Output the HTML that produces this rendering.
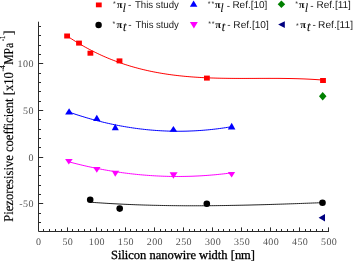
<!DOCTYPE html>
<html><head><meta charset="utf-8"><style>
html,body{margin:0;padding:0;background:#fff;}
body{width:353px;height:262px;overflow:hidden;}
svg{display:block;will-change:transform;text-rendering:geometricPrecision;}
</style></head><body>
<svg width="353" height="262" viewBox="0 0 353 262">
<rect width="353" height="262" fill="#fff"/>
<path d="M38.5 21.7 V231.5 H329" stroke="#2a2a2a" stroke-width="1" fill="none"/>
<path d="M38.5 231 V227.4 M43.5 231 V229 M49.5 231 V229 M55.5 231 V229 M61.5 231 V229 M67.5 231 V227.4 M72.5 231 V229 M78.5 231 V229 M84.5 231 V229 M90.5 231 V229 M96.5 231 V227.4 M101.5 231 V229 M107.5 231 V229 M113.5 231 V229 M119.5 231 V229 M125.5 231 V227.4 M130.5 231 V229 M136.5 231 V229 M142.5 231 V229 M148.5 231 V229 M154.5 231 V227.4 M160.5 231 V229 M165.5 231 V229 M171.5 231 V229 M177.5 231 V229 M183.5 231 V227.4 M189.5 231 V229 M194.5 231 V229 M200.5 231 V229 M206.5 231 V229 M212.5 231 V227.4 M218.5 231 V229 M223.5 231 V229 M229.5 231 V229 M235.5 231 V229 M241.5 231 V227.4 M247.5 231 V229 M252.5 231 V229 M258.5 231 V229 M264.5 231 V229 M270.5 231 V227.4 M276.5 231 V229 M281.5 231 V229 M287.5 231 V229 M293.5 231 V229 M299.5 231 V227.4 M305.5 231 V229 M310.5 231 V229 M316.5 231 V229 M322.5 231 V229 M328.5 231 V227.4 M39 222.5 H41.0 M39 213.5 H41.0 M39 203.5 H43.2 M39 194.5 H41.0 M39 185.5 H41.0 M39 175.5 H41.0 M39 166.5 H41.0 M39 157.5 H43.2 M39 147.5 H41.0 M39 138.5 H41.0 M39 129.5 H41.0 M39 119.5 H41.0 M39 110.5 H43.2 M39 101.5 H41.0 M39 91.5 H41.0 M39 82.5 H41.0 M39 73.5 H41.0 M39 63.5 H43.2 M39 54.5 H41.0 M39 45.5 H41.0 M39 35.5 H41.0 M39 26.5 H41.0" stroke="#2a2a2a" stroke-width="1" fill="none"/>
<g font-family="Liberation Serif" font-size="10" letter-spacing="0.4" fill="#555"><text x="38.8" y="244.6" text-anchor="middle">0</text><text x="67.8" y="244.6" text-anchor="middle">50</text><text x="96.9" y="244.6" text-anchor="middle">100</text><text x="125.9" y="244.6" text-anchor="middle">150</text><text x="154.9" y="244.6" text-anchor="middle">200</text><text x="183.9" y="244.6" text-anchor="middle">250</text><text x="213.0" y="244.6" text-anchor="middle">300</text><text x="242.0" y="244.6" text-anchor="middle">350</text><text x="271.0" y="244.6" text-anchor="middle">400</text><text x="300.1" y="244.6" text-anchor="middle">450</text><text x="329.1" y="244.6" text-anchor="middle">500</text><text x="33.8" y="206.5" text-anchor="end">-50</text><text x="33.8" y="160.5" text-anchor="end">0</text><text x="33.8" y="113.5" text-anchor="end">50</text><text x="33.8" y="66.5" text-anchor="end">100</text></g>
<text x="110.96" y="259.00" font-family="Liberation Serif" font-size="12.5" textLength="144.06" lengthAdjust="spacingAndGlyphs" fill="#000" stroke="#000" stroke-width="0.3">Silicon nanowire width [nm]</text>
<g transform="translate(13.0,0) rotate(-90)" font-family="Liberation Serif" fill="#000" stroke="#000" stroke-width="0.15"><text x="-221.76" y="0.00" font-size="13.5" textLength="149.64" lengthAdjust="spacingAndGlyphs">Piezoresisive coefficient [x10</text><text x="-71.58" y="-7.80" font-size="8" textLength="6.30" lengthAdjust="spacingAndGlyphs">-4</text><text x="-64.84" y="0.00" font-size="13.5" textLength="22.10" lengthAdjust="spacingAndGlyphs">MPa</text><text x="-41.24" y="-7.80" font-size="8" textLength="5.43" lengthAdjust="spacingAndGlyphs">-1</text><text x="-35.34" y="0.00" font-size="13.5" textLength="4.94" lengthAdjust="spacingAndGlyphs">]</text></g>
<polyline points="67.20,36.02 69.20,37.36 71.20,38.68 73.20,39.96 75.19,41.22 77.19,42.45 79.19,43.65 81.19,44.83 83.19,45.98 85.19,47.10 87.18,48.20 89.18,49.27 91.18,50.32 93.18,51.34 95.18,52.34 97.18,53.31 99.18,54.25 101.17,55.18 103.17,56.08 105.17,56.95 107.17,57.81 109.17,58.64 111.17,59.44 113.16,60.23 115.16,60.99 117.16,61.74 119.16,62.46 121.16,63.16 123.16,63.84 125.15,64.50 127.15,65.14 129.15,65.76 131.15,66.36 133.15,66.94 135.15,67.50 137.15,68.04 139.14,68.57 141.14,69.08 143.14,69.57 145.14,70.04 147.14,70.50 149.14,70.94 151.13,71.36 153.13,71.77 155.13,72.16 157.13,72.53 159.13,72.89 161.13,73.24 163.12,73.57 165.12,73.89 167.12,74.19 169.12,74.48 171.12,74.76 173.12,75.02 175.12,75.27 177.11,75.51 179.11,75.74 181.11,75.95 183.11,76.15 185.11,76.35 187.11,76.53 189.10,76.70 191.10,76.86 193.10,77.01 195.10,77.15 197.10,77.28 199.10,77.40 201.10,77.52 203.09,77.62 205.09,77.72 207.09,77.81 209.09,77.89 211.09,77.97 213.09,78.03 215.08,78.09 217.08,78.15 219.08,78.20 221.08,78.24 223.08,78.28 225.08,78.31 227.07,78.34 229.07,78.36 231.07,78.38 233.07,78.40 235.07,78.41 237.07,78.42 239.07,78.43 241.06,78.43 243.06,78.43 245.06,78.43 247.06,78.43 249.06,78.42 251.06,78.42 253.05,78.41 255.05,78.41 257.05,78.40 259.05,78.39 261.05,78.39 263.05,78.38 265.05,78.38 267.04,78.38 269.04,78.37 271.04,78.38 273.04,78.38 275.04,78.38 277.04,78.39 279.03,78.40 281.03,78.42 283.03,78.44 285.03,78.46 287.03,78.49 289.03,78.52 291.03,78.56 293.02,78.60 295.02,78.65 297.02,78.70 299.02,78.76 301.02,78.83 303.02,78.90 305.01,78.98 307.01,79.07 309.01,79.17 311.01,79.27 313.01,79.38 315.01,79.51 317.00,79.64 319.00,79.78 321.00,79.92 323.00,80.08" stroke="#ff0000" stroke-width="1" fill="none"/>
<polyline points="69.00,112.09 70.98,112.78 72.97,113.45 74.95,114.11 76.93,114.77 78.91,115.40 80.90,116.03 82.88,116.64 84.86,117.24 86.85,117.83 88.83,118.41 90.81,118.97 92.80,119.52 94.78,120.06 96.76,120.58 98.74,121.09 100.73,121.59 102.71,122.08 104.69,122.55 106.68,123.02 108.66,123.46 110.64,123.90 112.62,124.33 114.61,124.74 116.59,125.14 118.57,125.52 120.56,125.90 122.54,126.26 124.52,126.60 126.50,126.94 128.49,127.26 130.47,127.57 132.45,127.87 134.44,128.16 136.42,128.43 138.40,128.69 140.39,128.94 142.37,129.17 144.35,129.40 146.33,129.61 148.32,129.80 150.30,129.99 152.28,130.16 154.27,130.32 156.25,130.47 158.23,130.60 160.21,130.72 162.20,130.83 164.18,130.93 166.16,131.01 168.15,131.08 170.13,131.14 172.11,131.19 174.10,131.22 176.08,131.24 178.06,131.25 180.04,131.24 182.03,131.23 184.01,131.20 185.99,131.16 187.98,131.10 189.96,131.03 191.94,130.95 193.92,130.86 195.91,130.76 197.89,130.64 199.87,130.51 201.86,130.36 203.84,130.21 205.82,130.04 207.80,129.86 209.79,129.67 211.77,129.46 213.75,129.24 215.74,129.01 217.72,128.77 219.70,128.51 221.69,128.24 223.67,127.96 225.65,127.67 227.63,127.36 229.62,127.04 231.60,126.71" stroke="#0000ff" stroke-width="1" fill="none"/>
<polyline points="69.00,161.86 70.98,162.39 72.97,162.91 74.95,163.42 76.94,163.92 78.92,164.41 80.90,164.89 82.89,165.36 84.87,165.82 86.86,166.27 88.84,166.71 90.83,167.14 92.81,167.56 94.79,167.97 96.78,168.37 98.76,168.77 100.75,169.15 102.73,169.52 104.71,169.89 106.70,170.24 108.68,170.58 110.67,170.92 112.65,171.24 114.64,171.56 116.62,171.86 118.60,172.16 120.59,172.44 122.57,172.72 124.56,172.98 126.54,173.24 128.52,173.48 130.51,173.72 132.49,173.95 134.48,174.16 136.46,174.37 138.45,174.57 140.43,174.76 142.41,174.93 144.40,175.10 146.38,175.26 148.37,175.41 150.35,175.55 152.33,175.68 154.32,175.80 156.30,175.91 158.29,176.01 160.27,176.10 162.25,176.18 164.24,176.25 166.22,176.31 168.21,176.36 170.19,176.41 172.18,176.44 174.16,176.46 176.14,176.47 178.13,176.47 180.11,176.47 182.10,176.45 184.08,176.42 186.06,176.39 188.05,176.34 190.03,176.29 192.02,176.22 194.00,176.15 195.99,176.06 197.97,175.97 199.95,175.86 201.94,175.75 203.92,175.62 205.91,175.49 207.89,175.35 209.87,175.19 211.86,175.03 213.84,174.86 215.83,174.68 217.81,174.48 219.80,174.28 221.78,174.07 223.76,173.85 225.75,173.62 227.73,173.38 229.72,173.13 231.70,172.87" stroke="#ff00ff" stroke-width="1" fill="none"/>
<polyline points="90.20,202.20 92.19,202.35 94.17,202.49 96.16,202.63 98.14,202.77 100.13,202.90 102.11,203.04 104.10,203.16 106.08,203.29 108.07,203.41 110.05,203.52 112.04,203.64 114.03,203.75 116.01,203.85 118.00,203.96 119.98,204.06 121.97,204.15 123.95,204.25 125.94,204.34 127.92,204.43 129.91,204.51 131.89,204.59 133.88,204.67 135.87,204.75 137.85,204.82 139.84,204.89 141.82,204.96 143.81,205.02 145.79,205.08 147.78,205.14 149.76,205.19 151.75,205.25 153.74,205.30 155.72,205.34 157.71,205.39 159.69,205.43 161.68,205.47 163.66,205.51 165.65,205.54 167.63,205.57 169.62,205.60 171.60,205.63 173.59,205.65 175.58,205.67 177.56,205.69 179.55,205.71 181.53,205.72 183.52,205.74 185.50,205.75 187.49,205.75 189.47,205.76 191.46,205.76 193.44,205.76 195.43,205.76 197.42,205.76 199.40,205.76 201.39,205.75 203.37,205.74 205.36,205.73 207.34,205.72 209.33,205.70 211.31,205.68 213.30,205.67 215.28,205.65 217.27,205.62 219.26,205.60 221.24,205.57 223.23,205.55 225.21,205.52 227.20,205.49 229.18,205.46 231.17,205.42 233.15,205.39 235.14,205.35 237.12,205.31 239.11,205.27 241.10,205.23 243.08,205.19 245.07,205.14 247.05,205.10 249.04,205.05 251.02,205.00 253.01,204.95 254.99,204.90 256.98,204.85 258.96,204.80 260.95,204.74 262.94,204.69 264.92,204.63 266.91,204.57 268.89,204.52 270.88,204.46 272.86,204.40 274.85,204.34 276.83,204.27 278.82,204.21 280.81,204.15 282.79,204.08 284.78,204.02 286.76,203.95 288.75,203.88 290.73,203.81 292.72,203.75 294.70,203.68 296.69,203.61 298.67,203.54 300.66,203.47 302.65,203.40 304.63,203.32 306.62,203.25 308.60,203.18 310.59,203.11 312.57,203.03 314.56,202.96 316.54,202.88 318.53,202.81 320.51,202.73 322.50,202.66" stroke="#222" stroke-width="1" fill="none"/>
<rect x="64.20" y="33.50" width="5.8" height="5.0" fill="#ff0000"/><rect x="76.10" y="40.60" width="5.8" height="5.0" fill="#ff0000"/><rect x="87.50" y="50.70" width="5.8" height="5.0" fill="#ff0000"/><rect x="116.60" y="58.40" width="5.8" height="5.0" fill="#ff0000"/><rect x="204.00" y="75.60" width="5.8" height="5.0" fill="#ff0000"/><rect x="320.10" y="78.00" width="5.8" height="5.0" fill="#ff0000"/><path d="M69.1 108.2 L73.0 114.6 L65.1 114.6 Z" fill="#0000ff"/><path d="M96.8 114.8 L100.5 121.1 L93.1 121.1 Z" fill="#0000ff"/><path d="M115.2 123.8 L118.8 130.2 L111.8 130.2 Z" fill="#0000ff"/><path d="M173.4 125.9 L177.2 131.8 L169.6 131.8 Z" fill="#0000ff"/><path d="M231.7 122.7 L235.4 129.5 L227.8 129.5 Z" fill="#0000ff"/><path d="M65.1 159 L72.7 159 L68.8 164.6 Z" fill="#ff00ff"/><path d="M93.1 167 L100.5 167 L96.8 172.7 Z" fill="#ff00ff"/><path d="M111.8 170.8 L119.2 170.8 L115.2 176.8 Z" fill="#ff00ff"/><path d="M169.6 172.3 L177.6 172.3 L173.4 178.8 Z" fill="#ff00ff"/><path d="M227.8 172 L235.1 172 L231.7 177.5 Z" fill="#ff00ff"/><circle cx="90.2" cy="199.8" r="3.3" fill="#000"/><circle cx="119.7" cy="208.6" r="3.3" fill="#000"/><circle cx="206.8" cy="203.8" r="3.3" fill="#000"/><circle cx="322.5" cy="202.7" r="3.3" fill="#000"/><path d="M322.7 92 L326.5 96.2 L322.7 100.4 L319 96.2 Z" fill="#008000"/><path d="M318.6 217.7 L325 213.9 L325 221.6 Z" fill="#000080"/>
<rect x="95.90" y="2.50" width="5.8" height="4.8" fill="#ff0000"/><circle cx="98.6" cy="25" r="3.2" fill="#000"/><path d="M193.6 0.5 L197.4 6.8 L189.9 6.8 Z" fill="#0000ff"/><path d="M189.9 22 L197.8 22 L193.9 28.6 Z" fill="#ff00ff"/><path d="M281.4 0.5 L285.2 4.3 L281.4 8.1 L277.7 4.3 Z" fill="#008000"/><path d="M278.1 24.5 L284.8 21.2 L284.8 27.9 Z" fill="#000080"/>
<text x="113.09" y="6.20" font-family="Liberation Sans" font-size="7" fill="#222" >*</text><text x="116.87" y="7.50" font-family="Liberation Serif" font-size="10.5" font-weight="bold" fill="#111" >π</text><text x="122.43" y="11.60" font-family="Liberation Serif" font-size="12.6" font-style="italic" fill="#111" >l</text><text x="127.96" y="8.30" font-family="Liberation Sans" font-size="10" fill="#222" >-</text><text x="134.98" y="7.50" font-family="Liberation Sans" font-size="10" textLength="43.94" lengthAdjust="spacingAndGlyphs" fill="#1a1a1a" >This study</text><text x="112.59" y="26.00" font-family="Liberation Sans" font-size="7" fill="#222" >*</text><text x="116.47" y="27.70" font-family="Liberation Serif" font-size="10.5" font-weight="bold" fill="#111" >π</text><text x="122.68" y="31.40" font-family="Liberation Serif" font-size="14" font-style="italic" fill="#111" >t</text><text x="128.36" y="28.00" font-family="Liberation Sans" font-size="10" fill="#222" >-</text><text x="135.39" y="27.70" font-family="Liberation Sans" font-size="10" textLength="43.53" lengthAdjust="spacingAndGlyphs" fill="#1a1a1a" >This study</text><text x="207.79" y="6.40" font-family="Liberation Sans" font-size="7" fill="#222" >*</text><text x="211.39" y="6.40" font-family="Liberation Sans" font-size="7" fill="#222" >*</text><text x="214.77" y="7.60" font-family="Liberation Serif" font-size="10.5" font-weight="bold" fill="#111" >π</text><text x="220.33" y="11.70" font-family="Liberation Serif" font-size="12.6" font-style="italic" fill="#111" >l</text><text x="226.66" y="8.80" font-family="Liberation Sans" font-size="10" fill="#222" >-</text><text x="232.38" y="7.60" font-family="Liberation Sans" font-size="10" textLength="35.03" lengthAdjust="spacingAndGlyphs" fill="#1a1a1a" >Ref.[10]</text><text x="208.19" y="26.00" font-family="Liberation Sans" font-size="7" fill="#222" >*</text><text x="211.79" y="26.00" font-family="Liberation Sans" font-size="7" fill="#222" >*</text><text x="215.17" y="27.70" font-family="Liberation Serif" font-size="10.5" font-weight="bold" fill="#111" >π</text><text x="221.48" y="31.40" font-family="Liberation Serif" font-size="14" font-style="italic" fill="#111" >t</text><text x="227.36" y="27.60" font-family="Liberation Sans" font-size="10" fill="#222" >-</text><text x="233.37" y="27.70" font-family="Liberation Sans" font-size="10" textLength="35.45" lengthAdjust="spacingAndGlyphs" fill="#1a1a1a" >Ref.[10]</text><text x="295.29" y="6.40" font-family="Liberation Sans" font-size="7" fill="#222" >*</text><text x="298.67" y="7.60" font-family="Liberation Serif" font-size="10.5" font-weight="bold" fill="#111" >π</text><text x="304.73" y="11.70" font-family="Liberation Serif" font-size="12.6" font-style="italic" fill="#111" >l</text><text x="310.16" y="8.80" font-family="Liberation Sans" font-size="10" fill="#222" >-</text><text x="316.49" y="7.60" font-family="Liberation Sans" font-size="10" textLength="34.41" lengthAdjust="spacingAndGlyphs" fill="#1a1a1a" >Ref.[11]</text><text x="295.99" y="28.40" font-family="Liberation Sans" font-size="7" fill="#222" >*</text><text x="300.37" y="27.70" font-family="Liberation Serif" font-size="10.5" font-weight="bold" fill="#111" >π</text><text x="306.78" y="31.40" font-family="Liberation Serif" font-size="14" font-style="italic" fill="#111" >t</text><text x="312.56" y="27.60" font-family="Liberation Sans" font-size="10" fill="#222" >-</text><text x="318.08" y="27.70" font-family="Liberation Sans" font-size="10" textLength="34.93" lengthAdjust="spacingAndGlyphs" fill="#1a1a1a" >Ref.[11]</text>
</svg>
</body></html>
